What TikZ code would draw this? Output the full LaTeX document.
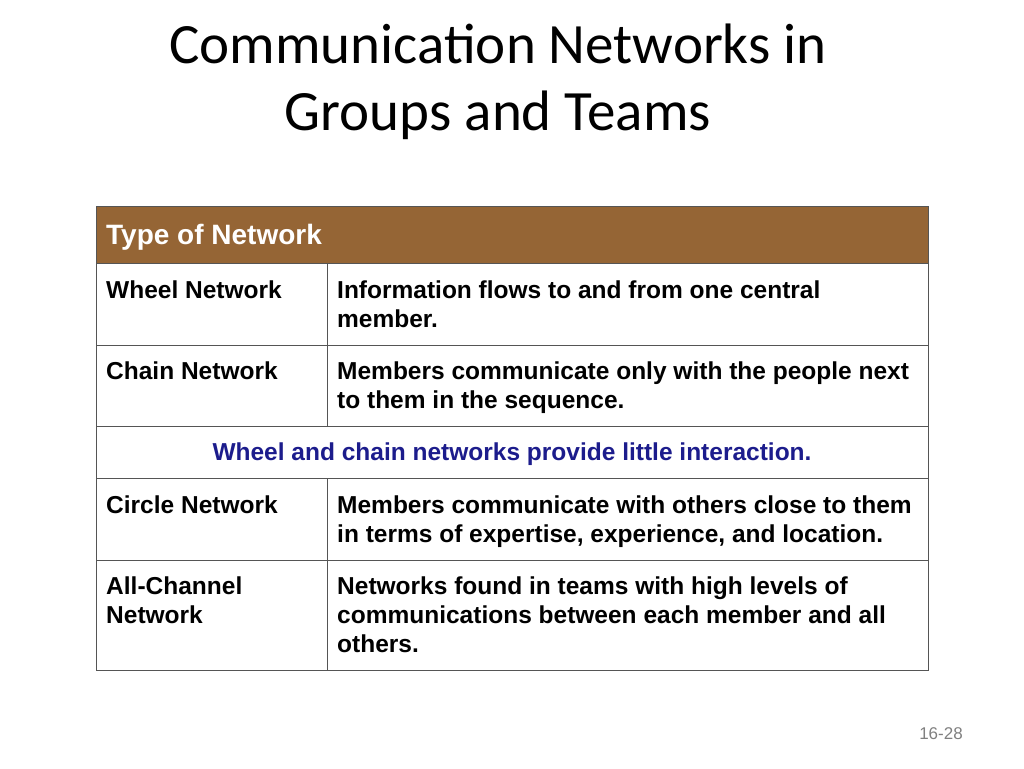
\documentclass[tikz,border=0pt]{standalone}
\usepackage{fontspec}
\setmainfont{Liberation Sans}
\newfontfamily\titlefont{Carlito}
\definecolor{hdr}{HTML}{956535}
\definecolor{navy}{HTML}{1C1C8C}
\definecolor{grid}{HTML}{555555}
\begin{document}
\begin{tikzpicture}[x=1pt,y=-1pt,
  cell/.style={anchor=base west,inner sep=0pt,font=\fontsize{24.5}{29}\selectfont\bfseries,align=left},
  line/.style={draw=grid,line width=0.8pt}]
\useasboundingbox (0,0) rectangle (1024,768);
\node[anchor=base,inner sep=0pt,font=\titlefont\fontsize{57}{67}\selectfont,align=center] (title) at (498,130) {Communication Networks in\\Groups and Teams};
\fill[hdr] (96,206) rectangle (928,263);
\node[cell,text=white,font=\fontsize{28}{30}\selectfont\bfseries] (h) at (106,244) {Type of Network};
\draw[line] (96,206) rectangle (928,670);
\foreach \y in {263,345,426,478,560} \draw[line] (96,\y) -- (928,\y);
\draw[line] (327,263) -- (327,426);
\draw[line] (327,478) -- (327,670);
\node[cell] (a1) at (106,298) {Wheel Network};
\node[cell] (b1) at (337,327) {Information flows to and from one central\\member.};
\node[cell] (a2) at (106,379) {Chain Network};
\node[cell] (b2) at (337,408) {Members communicate only with the people next\\to them in the sequence.};
\node[anchor=base,inner sep=0pt,text=navy,font=\fontsize{24.5}{29}\selectfont\bfseries] (m) at (512,460) {Wheel and chain networks provide little interaction.};
\node[cell] (a3) at (106,513) {Circle Network};
\node[cell] (b3) at (337,542) {Members communicate with others close to them\\in terms of expertise, experience, and location.};
\node[cell] (a4) at (106,623) {All-Channel\\Network};
\node[cell] (b4) at (337,652) {Networks found in teams with high levels of\\communications between each member and all\\others.};
\node[anchor=base,inner sep=0pt,text=gray,font=\fontsize{17}{19}\selectfont] (p) at (941,739) {16-28};
\end{tikzpicture}
\end{document}
